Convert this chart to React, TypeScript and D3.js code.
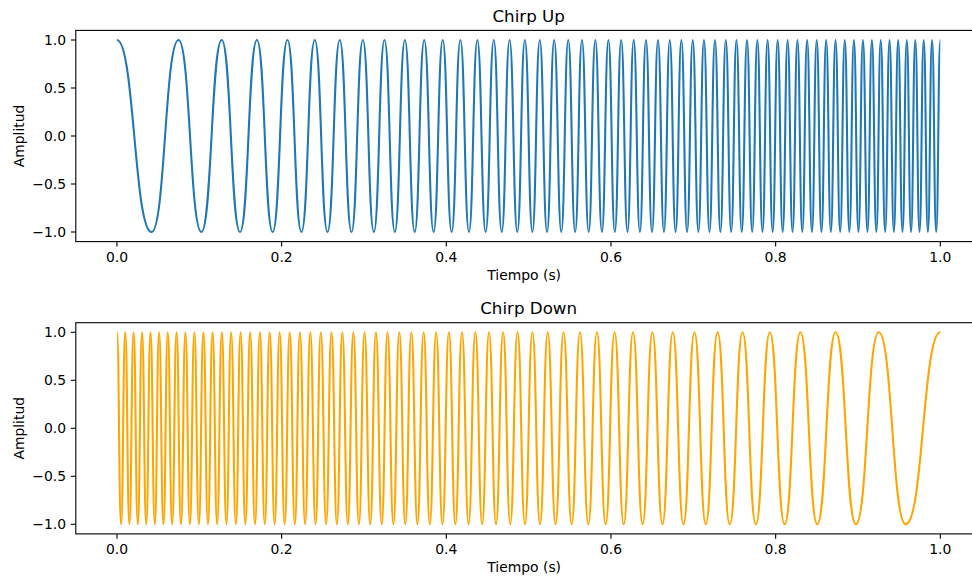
import React from "react";
import * as d3 from "d3";

// Times (s) of the successive extrema of each chirp.
// Extrema alternate between +1 and -1, starting at +1.
const UP_EXTREMA_T = [
  0, 0.04204, 0.07481, 0.10261, 0.1272, 0.14947, 0.16998, 0.1891, 0.20707, 0.22407,
  0.24025, 0.25572, 0.27057, 0.28486, 0.29864, 0.31199, 0.32492, 0.33748, 0.3497, 0.3616,
  0.37321, 0.38455, 0.39563, 0.40648, 0.4171, 0.42752, 0.43773, 0.44777, 0.45762, 0.46731,
  0.47683, 0.48621, 0.49543, 0.50453, 0.51349, 0.52232, 0.53103, 0.53962, 0.54811, 0.55648,
  0.56475, 0.57292, 0.581, 0.58898, 0.59687, 0.60467, 0.61239, 0.62003, 0.62759, 0.63508,
  0.64248, 0.64982, 0.65709, 0.66428, 0.67141, 0.67848, 0.68549, 0.69243, 0.69931, 0.70614,
  0.71291, 0.71962, 0.72629, 0.7329, 0.73946, 0.74596, 0.75241, 0.75882, 0.76519, 0.77151,
  0.77778, 0.78401, 0.79019, 0.79633, 0.80243, 0.8085, 0.81452, 0.8205, 0.82644, 0.83236,
  0.83822, 0.84406, 0.84986, 0.85562, 0.86136, 0.86704, 0.87271, 0.87834, 0.88393, 0.88951,
  0.89504, 0.90054, 0.90602, 0.91148, 0.91689, 0.92228, 0.92764, 0.93298, 0.93829, 0.94357,
  0.94882, 0.95404, 0.95926, 0.96443, 0.96959, 0.97471, 0.97982, 0.9849, 0.98996, 0.99499,
  1.0,
];

const DOWN_EXTREMA_T = [
  0, 0.00501, 0.01004, 0.0151, 0.02018, 0.02529, 0.03041, 0.03557, 0.04074, 0.04596,
  0.05118, 0.05643, 0.06171, 0.06702, 0.07236, 0.07772, 0.08311, 0.08852, 0.09398, 0.09946,
  0.10496, 0.11049, 0.11607, 0.12166, 0.12729, 0.13296, 0.13864, 0.14438, 0.15014, 0.15594,
  0.16178, 0.16764, 0.17356, 0.1795, 0.18548, 0.1915, 0.19757, 0.20367, 0.20981, 0.21599,
  0.22222, 0.22849, 0.23481, 0.24118, 0.24759, 0.25404, 0.26054, 0.2671, 0.27371, 0.28038,
  0.28709, 0.29386, 0.30069, 0.30757, 0.31451, 0.32152, 0.32859, 0.33572, 0.34291, 0.35018,
  0.35752, 0.36492, 0.37241, 0.37997, 0.38761, 0.39533, 0.40313, 0.41102, 0.419, 0.42708,
  0.43525, 0.44352, 0.45189, 0.46038, 0.46897, 0.47768, 0.48651, 0.49547, 0.50457, 0.51379,
  0.52317, 0.53269, 0.54238, 0.55223, 0.56227, 0.57248, 0.5829, 0.59352, 0.60437, 0.61545,
  0.62679, 0.6384, 0.6503, 0.66252, 0.67508, 0.68801, 0.70136, 0.71514, 0.72943, 0.74428,
  0.75975, 0.77593, 0.79293, 0.8109, 0.83002, 0.85053, 0.8728, 0.89739, 0.92519, 0.95796,
  1.0,
];

const EXTREMUM_LEVELS = [1, -1];

const X_TICKS = [0, 0.2, 0.4, 0.6, 0.8, 1.0];
const Y_TICKS = [-1, -0.5, 0, 0.5, 1];

const TITLES = ["Chirp Up", "Chirp Down"];
const X_LABEL = "Tiempo (s)";
const Y_LABEL = "Amplitud";
const COLORS = ["#1f77b4", "#ffa500"];

const W = 972;
const H = 579;
const FONT = "DejaVu Sans, Verdana, sans-serif";

const fmt = (v: number) => {
  const s = v.toFixed(1);
  return v < 0 ? "\u2212" + s.slice(1) : s;
};

type PanelProps = { top: number; bottom: number; title: string; times: number[]; color: string };

function Panel({ top, bottom, title, times, color }: PanelProps) {
  const left = 75.8;
  const right = 981.5;
  const x = d3.scaleLinear().domain([-0.05, 1.05]).range([left, right]);
  const y = d3.scaleLinear().domain([-1.1, 1.1]).range([bottom, top]);
  const pts = times.map((t, i) => [t, EXTREMUM_LEVELS[i % 2]] as [number, number]);
  const line = d3
    .line<[number, number]>()
    .x((d) => x(d[0]))
    .y((d) => y(d[1]))
    .curve(d3.curveBumpX);
  const tickLen = 4.9;
  const midY = (top + bottom) / 2;
  return (
    <g>
      <path d={line(pts) || ""} fill="none" stroke={color} strokeWidth={2.08} strokeLinejoin="round" />
      <rect x={left} y={top} width={right - left} height={bottom - top} fill="none" stroke="#000" strokeWidth={1.1} />
      {X_TICKS.map((t) => (
        <g key={"x" + t}>
          <line x1={x(t)} x2={x(t)} y1={bottom} y2={bottom + tickLen} stroke="#000" strokeWidth={1.1} />
          <text x={x(t)} y={bottom + 20.4} textAnchor="middle" fontSize={13.9} fontFamily={FONT} fill="#000">
            {fmt(t)}
          </text>
        </g>
      ))}
      {Y_TICKS.map((t) => (
        <g key={"y" + t}>
          <line x1={left - tickLen} x2={left} y1={y(t)} y2={y(t)} stroke="#000" strokeWidth={1.1} />
          <text x={left - 9.7} y={y(t) + 5} textAnchor="end" fontSize={13.9} fontFamily={FONT} fill="#000">
            {fmt(t)}
          </text>
        </g>
      ))}
      <text x={(left + right) / 2 - 4.5} y={bottom + 38.5} textAnchor="middle" fontSize={13.9} fontFamily={FONT} fill="#000">
        {X_LABEL}
      </text>
      <text
        transform={`translate(23.5,${midY}) rotate(-90)`}
        textAnchor="middle"
        fontSize={13.9}
        fontFamily={FONT}
        fill="#000"
      >
        {Y_LABEL}
      </text>
      <text x={(left + right) / 2} y={top - 8.3} textAnchor="middle" fontSize={16.7} fontFamily={FONT} fill="#000">
        {title}
      </text>
    </g>
  );
}

export default function App() {
  return (
    <svg
      width={W}
      height={H}
      viewBox={`0 0 ${W} ${H}`}
      style={{ position: "fixed", left: 0, top: 0, background: "#fff" }}
    >
      <rect x={0} y={0} width={W} height={H} fill="#fff" />
      <Panel top={30.4} bottom={241.6} title={TITLES[0]} times={UP_EXTREMA_T} color={COLORS[0]} />
      <Panel top={322.7} bottom={533.9} title={TITLES[1]} times={DOWN_EXTREMA_T} color={COLORS[1]} />
    </svg>
  );
}
